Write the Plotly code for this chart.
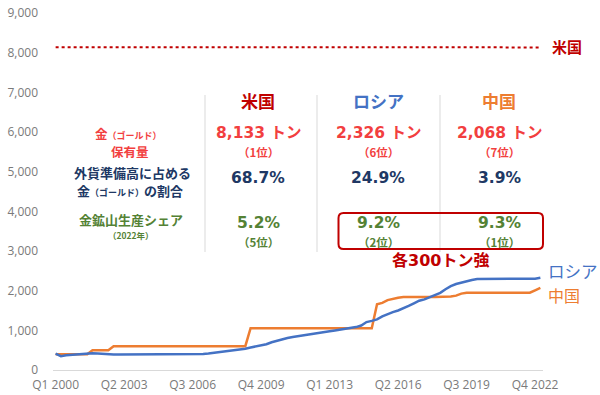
import plotly.graph_objects as go

# ---------------- data ----------------
quarters = [f"Q{q} {y}" for y in range(2000, 2024) for q in range(1, 5)][:93]
tick_labels = ["Q1 2000", "Q2 2003", "Q3 2006", "Q4 2009", "Q1 2013", "Q2 2016", "Q3 2019", "Q4 2022"]

russia = [
    415, 350, 372, 384,
    392, 405, 418, 423,
    414, 400, 391, 388,
    390, 390, 390, 390,
    388, 387, 387, 387,
    387, 387, 387, 387,
    388, 390, 396, 402,
    406, 414, 430, 450,
    462, 478, 496, 520,
    536, 568, 592, 608,
    650, 700, 735, 789,
    805, 830, 852, 883,
    900, 918, 936, 958,
    976, 996, 1015, 1035,
    1047, 1082, 1120, 1208,
    1238, 1275, 1352, 1415,
    1460, 1500, 1550, 1615,
    1680, 1746, 1780, 1839,
    1890, 1944, 2036, 2113,
    2168, 2208, 2241, 2271,
    2296, 2299, 2299, 2299,
    2292, 2292, 2295, 2302,
    2298, 2298, 2298, 2301,
    2326,
]

china = [
    400, 395, 395, 395,
    395, 395, 395, 500,
    500, 500, 500, 600,
    600, 600, 600, 600,
    600, 600, 600, 600,
    600, 600, 600, 600,
    600, 600, 600, 600,
    600, 600, 600, 600,
    600, 600, 600, 600,
    600, 1054, 1054, 1054,
    1054, 1054, 1054, 1054,
    1054, 1054, 1054, 1054,
    1054, 1054, 1054, 1054,
    1054, 1054, 1054, 1054,
    1054, 1054, 1054, 1054,
    1054, 1658, 1693, 1762,
    1798, 1823, 1838, 1842,
    1842, 1842, 1842, 1842,
    1842, 1842, 1842, 1852,
    1874, 1926, 1948, 1948,
    1948, 1948, 1948, 1948,
    1948, 1948, 1948, 1948,
    1948, 1948, 1948, 2010,
    2068,
]

usa = [
    8138, 8138, 8138, 8138,
    8140, 8150, 8150, 8150,
    8150, 8150, 8150, 8150,
    8136, 8136, 8136, 8136,
    8135, 8135, 8135, 8135,
    8134, 8134, 8134, 8134,
    8134, 8134, 8134, 8134,
    8134, 8134, 8134, 8134,
    8134, 8134, 8134, 8134,
    8134, 8134, 8134, 8134,
    8134, 8134, 8134, 8134,
    8134, 8134, 8134, 8134,
    8134, 8134, 8134, 8134,
    8134, 8134, 8134, 8134,
    8134, 8134, 8134, 8134,
    8134, 8134, 8134, 8134,
    8134, 8134, 8134, 8134,
    8134, 8134, 8134, 8134,
    8134, 8134, 8134, 8134,
    8134, 8134, 8134, 8134,
    8134, 8134, 8134, 8134,
    8134, 8134, 8134, 8134,
    8134, 8134, 8134, 8134,
    8133,
]

# table texts
countries = ["米国", "ロシア", "中国"]
holdings = ["8,133 トン", "2,326 トン", "2,068 トン"]
holding_ranks = ["（1位）", "（6位）", "（7位）"]
reserve_shares = ["68.7%", "24.9%", "3.9%"]
mine_shares = ["5.2%", "9.2%", "9.3%"]
mine_ranks = ["（5位）", "（2位）", "（1位）"]

# ---------------- style ----------------
W, H = 600, 395
L, R, T, B = 53, 543, 13, 370

C_US = "#C00000"
C_RU = "#4472C4"
C_CN = "#ED7D31"
C_RED = "#F23F3F"
C_NAVY = "#203864"
C_GREEN = "#548235"
TICK = "#7A7A7A"
JP = "Noto Sans CJK JP"
NUM = "DejaVu Sans, Noto Sans CJK JP"


def px(x):
    return (x - L) / (R - L)


def py(y):
    return (B - y) / (B - T)


fig = go.Figure()
fig.add_trace(go.Scatter(x=quarters, y=usa, mode="lines",
                         line=dict(color=C_US, width=2, dash="dot"), hoverinfo="skip"))
fig.add_trace(go.Scatter(x=quarters, y=china, mode="lines",
                         line=dict(color=C_CN, width=2.5), hoverinfo="skip"))
fig.add_trace(go.Scatter(x=quarters, y=russia, mode="lines",
                         line=dict(color=C_RU, width=2.5), hoverinfo="skip"))

ann = []


def add(text, x, y, size, color, family=JP, bold=True, xanchor="center"):
    t = f"<b>{text}</b>" if bold else text
    ann.append(dict(text=t, x=px(x), y=py(y), xref="paper", yref="paper",
                    xanchor=xanchor, yanchor="middle", showarrow=False,
                    borderpad=0,
                    font=dict(size=size, color=color, family=family)))


# left row labels
add('金<span style="font-size:9px">（ゴールド）</span>', 128, 133, 12.5, C_RED)
add("保有量", 130, 152, 12.5, C_RED)
add("外貨準備高に占める", 132, 172, 13, C_NAVY)
add('金<span style="font-size:9px">（ゴールド）</span>の割合', 130, 190, 13, C_NAVY)
add("金鉱山生産シェア", 131, 220, 13, C_GREEN)
add("（2022年）", 131, 235, 8.5, C_GREEN)

col_x = [258, 378, 499]
col_colors = [C_US, C_RU, C_CN]
for i in range(3):
    cx = col_x[i]
    add(countries[i], cx, 100, 17, col_colors[i])
    add(holdings[i], cx, 133, 15.5, C_RED, family=NUM)
    add(holding_ranks[i], cx, 152, 11.5, C_RED)
    add(reserve_shares[i], cx, 178, 15.5, C_NAVY, family=NUM)
    add(mine_shares[i], cx, 223, 15.5, C_GREEN, family=NUM)
    add(mine_ranks[i], cx, 242, 11.5, C_GREEN)

add("各300トン強", 440, 260, 16, C_US, family=NUM)

# series end labels
add("米国", 551, 46, 15, C_US, xanchor="left")
add("ロシア", 547, 271, 16.5, C_RU, bold=False, xanchor="left")
add("中国", 547, 295, 16, C_CN, bold=False, xanchor="left")

shapes = []
for sx in [205, 317, 440]:
    shapes.append(dict(type="line", xref="paper", yref="paper",
                       x0=px(sx), x1=px(sx), y0=py(95), y1=py(252),
                       line=dict(color="#D9D9D9", width=1), layer="below"))

# rounded rectangle
x0, x1, y0, y1, r = 338.5, 543, 213, 249, 5
pts = (f"M {px(x0 + r)},{py(y0)} L {px(x1 - r)},{py(y0)} "
       f"Q {px(x1)},{py(y0)} {px(x1)},{py(y0 + r)} "
       f"L {px(x1)},{py(y1 - r)} Q {px(x1)},{py(y1)} {px(x1 - r)},{py(y1)} "
       f"L {px(x0 + r)},{py(y1)} Q {px(x0)},{py(y1)} {px(x0)},{py(y1 - r)} "
       f"L {px(x0)},{py(y0 + r)} Q {px(x0)},{py(y0)} {px(x0 + r)},{py(y0)} Z")
shapes.append(dict(type="path", xref="paper", yref="paper", path=pts,
                   line=dict(color=C_US, width=2)))

fig.update_layout(
    width=W, height=H,
    margin=dict(l=L, r=W - R, t=T, b=H - B, autoexpand=False),
    paper_bgcolor="white", plot_bgcolor="white",
    showlegend=False,
    annotations=ann, shapes=shapes,
    xaxis=dict(type="category", range=[-0.5, len(quarters) - 0.5],
               tickmode="array", tickvals=tick_labels, ticktext=tick_labels,
               showgrid=False, zeroline=False, showline=True, linecolor="#D9D9D9",
               ticks="", tickfont=dict(size=12, color=TICK, family="Open Sans"),
               ticklabelstandoff=4, automargin=False),
    yaxis=dict(range=[0, 9000], tickvals=list(range(0, 9001, 1000)),
               tickformat=",d", showgrid=False, zeroline=False, showline=False,
               tickfont=dict(size=12, color=TICK, family="Open Sans"),
               ticklabelstandoff=14, automargin=False),
)

fig.write_html("out.html",
               config={"displayModeBar": False, "staticPlot": True},
               post_script="document.body.style.margin='0px';document.body.style.padding='0px';")
